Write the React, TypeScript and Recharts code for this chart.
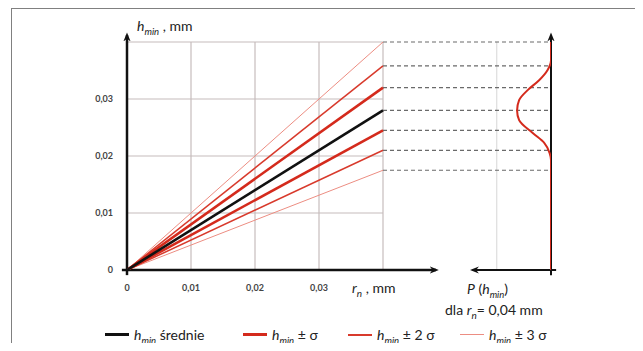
import React from 'react';
import { ComposedChart, Line, XAxis, YAxis, ReferenceLine } from 'recharts';

// r_n values at the two ends of each line (mm)
const rnEnds = [0, 0.04];

// h_min at r_n = 0 and r_n = 0.04
const hMean = [0, 0.028];
const hPlus1 = [0, 0.032];
const hMinus1 = [0, 0.0245];
const hPlus2 = [0, 0.0358];
const hMinus2 = [0, 0.021];
const hPlus3 = [0, 0.04];
const hMinus3 = [0, 0.0175];

// P(h_min) at r_n = 0.04 mm, read along the h axis
const distH = [0, 0.0193, 0.0205, 0.0223, 0.024, 0.0263, 0.028, 0.0298, 0.0316, 0.0333, 0.0351, 0.0368, 0.04];
const distP = [0, 0, 0.04, 0.2, 0.53, 0.94, 1, 0.94, 0.68, 0.35, 0.1, 0, 0];

const xTicks = [0, 0.01, 0.02, 0.03];
const yTicks = [0, 0.01, 0.02, 0.03];
const gridSteps = [0.01, 0.02, 0.03, 0.04];

const toSeries = (hs: number[]) => rnEnds.map((r, i) => ({ r, h: hs[i] }));
const distData = distH.map((h, i) => ({ h, P: distP[i] }));

const fmt = (v: number) => (v === 0 ? '0' : v.toFixed(2).replace('.', ','));

const P_AXIS = 0.06625; // main x coordinate of the P(h) axis
const GRID = '#c6bcbc';
const FONT = 'Lato, "Open Sans", sans-serif';

const fans = [
  { key: 'p3', data: hPlus3, color: '#ec8d82', w: 1 },
  { key: 'm3', data: hMinus3, color: '#ec8d82', w: 1 },
  { key: 'p2', data: hPlus2, color: '#d83a2c', w: 1.5 },
  { key: 'm2', data: hMinus2, color: '#d83a2c', w: 1.5 },
  { key: 'p1', data: hPlus1, color: '#d42a1c', w: 2.6 },
  { key: 'm1', data: hMinus1, color: '#d42a1c', w: 2.6 },
  { key: 'mean', data: hMean, color: '#111111', w: 2.6 },
];

const levels = [hMinus3, hMinus2, hMinus1, hMean, hPlus1, hPlus2, hPlus3].map((a) => a[1]);

function HMin({ size = 14 }: { size?: number }) {
  return (
    <span style={{ fontSize: size }}>
      <i>h</i>
      <i style={{ fontSize: size * 0.68, position: 'relative', top: size * 0.3 }}>min</i>
    </span>
  );
}

function LegendItem({ color, w, label, left }: { color: string; w: number; label: React.ReactNode; left: number }) {
  return (
    <div style={{ position: 'absolute', left, top: 326, display: 'flex', alignItems: 'center', whiteSpace: 'nowrap' }}>
      <div style={{ width: 24, height: w, background: color, marginRight: 5 }} />
      <span style={{ fontSize: 14, color: '#222' }}>{label}</span>
    </div>
  );
}

export default function App() {
  return (
    <div style={{ position: 'relative', margin: -8, width: 643, height: 351, overflow: 'hidden', background: '#fff', fontFamily: FONT }}>
      <svg width={0} height={0} style={{ position: 'absolute' }}>
        <defs>
          <marker id="arrowHead" viewBox="0 0 10 10" refX="7" refY="5" markerUnits="userSpaceOnUse" markerWidth="9" markerHeight="9" orient="auto-start-reverse">
            <path d="M0,1 L10,5 L0,9 L3,5 z" fill="#111" />
          </marker>
        </defs>
      </svg>
      <div style={{ position: 'absolute', left: 11, top: 8, width: 800, height: 500, borderTop: '1.5px solid #808080', borderLeft: '1.5px solid #808080' }} />
      <div style={{ position: 'absolute', left: 0, top: 0 }}>
        <ComposedChart width={643} height={351} margin={{ top: 42, right: 643 - 551, bottom: 51, left: 87 }}>
          <XAxis
            xAxisId="r"
            dataKey="r"
            type="number"
            domain={[0, P_AXIS]}
            allowDataOverflow
            ticks={xTicks}
            tickFormatter={fmt}
            axisLine={false}
            tickLine={false}
            tickSize={0}
            tickMargin={15}
            height={30}
            tick={{ fontSize: 9, fontWeight: 700, fill: '#444', fontFamily: FONT }}
          />
          <XAxis xAxisId="p" dataKey="P" type="number" domain={[0, 12.5]} reversed hide height={0} allowDataOverflow />
          <YAxis
            dataKey="h"
            type="number"
            domain={[0, 0.04]}
            allowDataOverflow
            ticks={yTicks}
            tickFormatter={fmt}
            axisLine={false}
            tickLine={false}
            tickSize={0}
            tickMargin={14}
            width={40}
            tick={{ fontSize: 9, fontWeight: 700, fill: '#444', fontFamily: FONT }}
          />

          {gridSteps.map((g) => (
            <ReferenceLine key={'h' + g} xAxisId="r" segment={[{ x: 0, y: g }, { x: 0.04, y: g }]} stroke={GRID} strokeWidth={1.2} />
          ))}
          {gridSteps.map((g) => (
            <ReferenceLine key={'v' + g} xAxisId="r" segment={[{ x: g, y: 0 }, { x: g, y: 0.04 }]} stroke={GRID} strokeWidth={1.2} />
          ))}
          <ReferenceLine xAxisId="p" segment={[{ x: 1.6, y: 0 }, { x: 1.6, y: 0.04 }]} stroke="#ddd" strokeWidth={1.2} />

          {levels.map((v) => (
            <ReferenceLine key={'d' + v} xAxisId="r" segment={[{ x: 0.04, y: v }, { x: P_AXIS, y: v }]} stroke="#6a6a6a" strokeWidth={1.2} strokeDasharray="4 3" />
          ))}

          <ReferenceLine xAxisId="r" ifOverflow="visible" segment={[{ x: 0, y: -0.0009 }, { x: 0, y: 0.0412 }]} stroke="#111" strokeWidth={2.5} markerEnd="url(#arrowHead)" />
          <ReferenceLine xAxisId="r" ifOverflow="visible" segment={[{ x: -0.0008, y: 0 }, { x: 0.0483, y: 0 }]} stroke="#111" strokeWidth={2.5} markerEnd="url(#arrowHead)" />
          <ReferenceLine xAxisId="r" ifOverflow="visible" segment={[{ x: P_AXIS, y: -0.0009 }, { x: P_AXIS, y: 0.0412 }]} stroke="#111" strokeWidth={2} markerEnd="url(#arrowHead)" />
          <ReferenceLine xAxisId="r" ifOverflow="visible" segment={[{ x: P_AXIS + 0.0008, y: 0 }, { x: 0.054, y: 0 }]} stroke="#111" strokeWidth={2} markerEnd="url(#arrowHead)" />

          {fans.map((f) => (
            <Line
              key={f.key}
              xAxisId="r"
              data={toSeries(f.data)}
              dataKey="h"
              type="linear"
              stroke={f.color}
              strokeWidth={f.w}
              dot={false}
              activeDot={false}
              isAnimationActive={false}
            />
          ))}
          <Line
            xAxisId="p"
            data={distData}
            dataKey="h"
            type="monotoneY"
            stroke="#d42a1c"
            strokeWidth={2}
            dot={false}
            activeDot={false}
            isAnimationActive={false}
          />
        </ComposedChart>
      </div>

      <div style={{ position: 'absolute', left: 137, top: 17, fontSize: 14, color: '#222', whiteSpace: 'nowrap' }}>
        <HMin /> , mm
      </div>
      <div style={{ position: 'absolute', left: 352, top: 279, fontSize: 14, color: '#222', whiteSpace: 'nowrap' }}>
        <i>r</i>
        <i style={{ fontSize: 10, position: 'relative', top: 4 }}>n</i> , mm
      </div>
      <div style={{ position: 'absolute', left: 467, top: 280, fontSize: 14, color: '#222', whiteSpace: 'nowrap' }}>
        <i>P</i> (<HMin />)
      </div>
      <div style={{ position: 'absolute', left: 445, top: 301, fontSize: 14, color: '#222', whiteSpace: 'nowrap' }}>
        dla <i>r</i>
        <i style={{ fontSize: 10, position: 'relative', top: 4 }}>n</i>= 0,04 mm
      </div>

      <LegendItem left={105} color="#111" w={3} label={<><HMin /> średnie</>} />
      <LegendItem left={243} color="#d42a1c" w={3} label={<><HMin /> ± σ</>} />
      <LegendItem left={348} color="#d83a2c" w={2} label={<><HMin /> ± 2 σ</>} />
      <LegendItem left={460} color="#ec8d82" w={1.2} label={<><HMin /> ± 3 σ</>} />
    </div>
  );
}
